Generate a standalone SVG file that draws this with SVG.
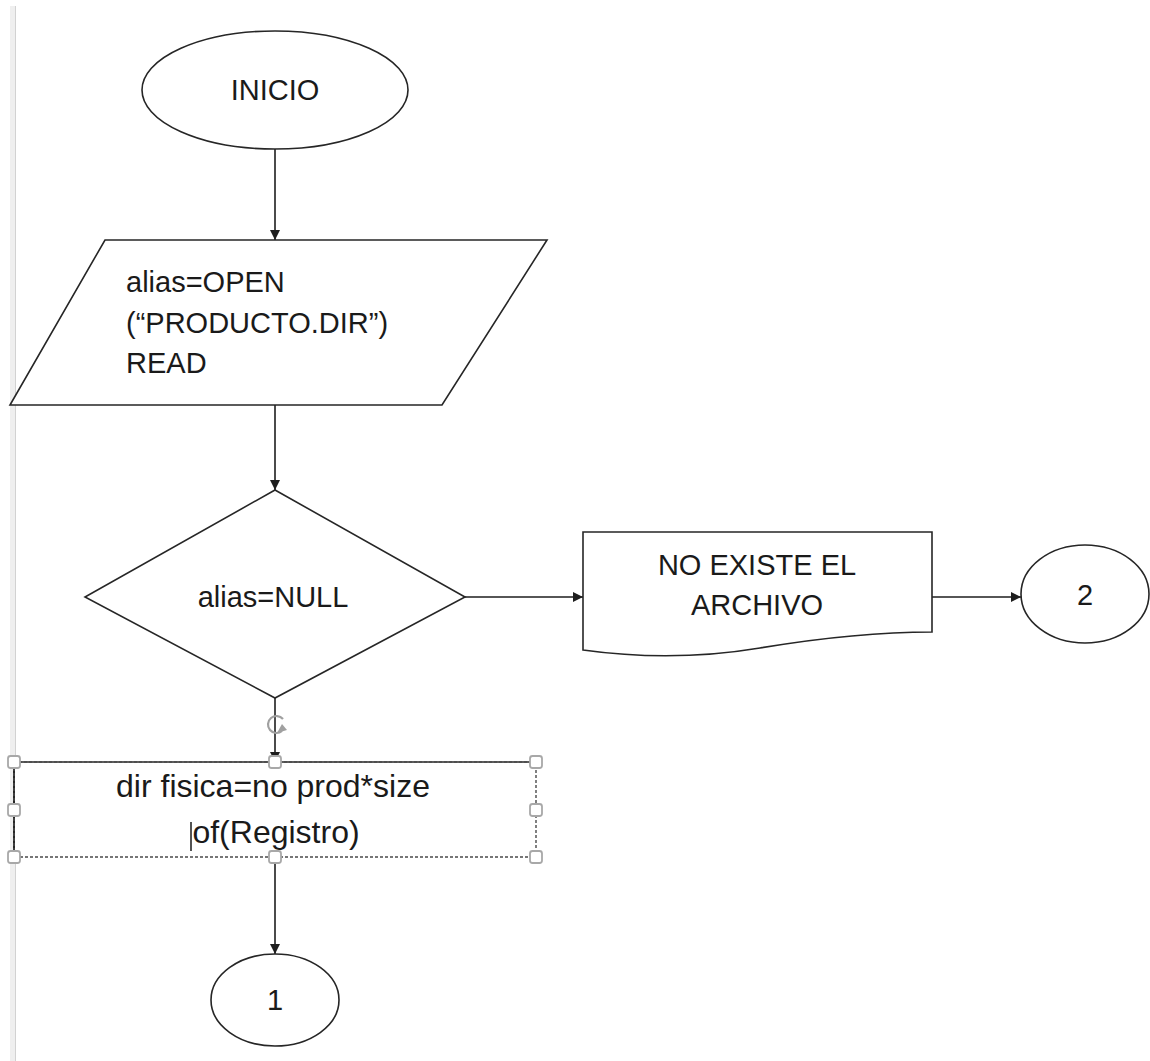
<svg xmlns="http://www.w3.org/2000/svg" width="1150" height="1061" viewBox="0 0 1150 1061">
<defs>
<style>
.shape{fill:#fff;stroke:#262626;stroke-width:1.6}
.lbl{font-family:"Liberation Sans",Arial,sans-serif;font-size:29px;fill:#1a1a1a}
.lbl2{font-family:"Liberation Sans",Arial,sans-serif;font-size:32px;fill:#1a1a1a}
.conn{fill:none;stroke:#1e1e1e;stroke-width:1.6}
.handle{fill:#fff;stroke:#a8a8a8;stroke-width:1.8}
</style>
<marker id="arr" viewBox="0 0 10 10" refX="10" refY="5" markerWidth="10" markerHeight="10" markerUnits="userSpaceOnUse" orient="auto">
<path d="M0,0 L10,5 L0,10 Z" fill="#1e1e1e"/>
</marker>
</defs>
<rect width="1150" height="1061" fill="#fff"/>
<rect x="10" y="6" width="6" height="1055" fill="#efefef"/>
<line x1="15.5" y1="6" x2="15.5" y2="1061" stroke="#d2d2d2" stroke-width="1"/>

<g id="connectors">
<line class="conn" x1="275" y1="149" x2="275" y2="240" marker-end="url(#arr)"/>
<line class="conn" x1="275" y1="405" x2="275" y2="490" marker-end="url(#arr)"/>
<line class="conn" x1="465" y1="597" x2="583" y2="597" marker-end="url(#arr)"/>
<line class="conn" x1="932" y1="597" x2="1021" y2="597" marker-end="url(#arr)"/>
<line class="conn" x1="275" y1="698" x2="275" y2="762" marker-end="url(#arr)"/>
<line class="conn" x1="275" y1="857" x2="275" y2="954" marker-end="url(#arr)"/>
</g>

<g id="inicio">
<ellipse class="shape" cx="275" cy="90" rx="133" ry="59"/>
<text class="lbl" x="275" y="100" text-anchor="middle">INICIO</text>
</g>

<g id="open">
<polygon class="shape" points="105,240 547,240 442,405 10,405"/>
<text class="lbl" x="126" y="292">alias=OPEN</text>
<text class="lbl" x="126" y="333">(“PRODUCTO.DIR”)</text>
<text class="lbl" x="126" y="373">READ</text>
</g>

<g id="decision">
<polygon class="shape" points="275,490 465,597 275,698 85,597"/>
<text class="lbl" x="273" y="607" text-anchor="middle">alias=NULL</text>
</g>

<g id="noexiste">
<path class="shape" d="M583,532 L932,532 L932,632 C880,632 820,638 760,648 C700,658 640,658 583,650 Z"/>
<text class="lbl" x="757" y="575" text-anchor="middle">NO EXISTE EL</text>
<text class="lbl" x="757" y="615" text-anchor="middle">ARCHIVO</text>
</g>

<g id="conector2">
<ellipse class="shape" cx="1085" cy="594" rx="64" ry="49"/>
<text class="lbl" x="1085" y="605" text-anchor="middle">2</text>
</g>

<g id="dirfisica">
<rect x="14" y="762" width="522" height="95" fill="#fff" stroke="none"/>
<line x1="14" y1="762" x2="536" y2="762" stroke="#262626" stroke-width="1.6"/>
<line x1="14" y1="762" x2="14" y2="857" stroke="#262626" stroke-width="2"/>
<rect x="14" y="762" width="522" height="95" fill="none" stroke="#4a4a4a" stroke-width="1.4" stroke-dasharray="3 2"/>
<text class="lbl2" x="273" y="797" text-anchor="middle">dir fisica=no prod*size</text>
<text class="lbl2" x="276" y="843" text-anchor="middle">of(Registro)</text>
<line x1="191" y1="822" x2="191" y2="851" stroke="#1a1a1a" stroke-width="1.5"/>
<rect class="handle" x="8" y="756" width="12" height="12" rx="2.5"/>
<rect class="handle" x="269" y="756" width="12" height="12" rx="2.5"/>
<rect class="handle" x="530" y="756" width="12" height="12" rx="2.5"/>
<rect class="handle" x="8" y="804" width="12" height="12" rx="2.5"/>
<rect class="handle" x="530" y="804" width="12" height="12" rx="2.5"/>
<rect class="handle" x="8" y="851" width="12" height="12" rx="2.5"/>
<rect class="handle" x="269" y="851" width="12" height="12" rx="2.5"/>
<rect class="handle" x="530" y="851" width="12" height="12" rx="2.5"/>
<path d="M282,731 A8.5,8.5 0 1 1 283,719" fill="none" stroke="#a0a0a0" stroke-width="2.2"/>
<path d="M277,733 L287,730 L282,724 Z" fill="#a0a0a0"/>
</g>

<g id="conector1">
<ellipse class="shape" cx="275" cy="1000" rx="64" ry="46"/>
<text class="lbl" x="275" y="1010" text-anchor="middle">1</text>
</g>
</svg>
